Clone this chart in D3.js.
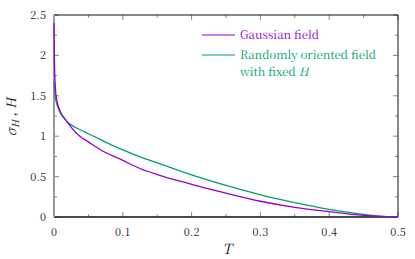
<!DOCTYPE html>
<html><head><meta charset="utf-8">
<script src="https://cdn.jsdelivr.net/npm/d3@7"></script>
<style>
html,body{margin:0;padding:0;background:#fff;}
</style></head>
<body><svg id="c" width="415" height="259"></svg>
<script>
const T        = [0, 0.0005, 0.001, 0.002, 0.004, 0.008, 0.012, 0.018, 0.025, 0.038, 0.05, 0.067, 0.1, 0.125, 0.15, 0.2, 0.25, 0.3, 0.35, 0.4, 0.45, 0.48, 0.5];
const gaussian = [2.4, 2.0, 1.8, 1.6, 1.45, 1.33, 1.26, 1.19, 1.11, 0.996, 0.93, 0.835, 0.70, 0.60, 0.525, 0.405, 0.295, 0.195, 0.12, 0.066, 0.02, 0.004, 0];
const randomH  = [1.68, 1.6, 1.55, 1.48, 1.40, 1.31, 1.25, 1.19, 1.14, 1.08, 1.03, 0.96, 0.83, 0.745, 0.67, 0.52, 0.39, 0.275, 0.178, 0.095, 0.033, 0.008, 0];
const xTicks = [0, 0.1, 0.2, 0.3, 0.4, 0.5];
const yTicks = [0, 0.5, 1, 1.5, 2, 2.5];
const seriesNames = ["Gaussian field", "Randomly oriented field"];

const FONT = "'Noto Serif CJK SC','Liberation Serif',serif";
const svg = d3.select("#c");
const L = 54, R = 398, TOP = 15, B = 217;
const x = d3.scaleLinear().domain([0, 0.5]).range([L, R]);
const y = d3.scaleLinear().domain([0, 2.5]).range([B, TOP]);

const tickCol = "#888";
const xMinor = d3.range(0, 0.5001, 0.05);
const yMinor = d3.range(0, 2.5001, 0.25);
const g = svg.append("g");
xMinor.forEach(v => {
  const major = xTicks.some(t => Math.abs(t - v) < 1e-6);
  const len = major ? 5 : 3;
  g.append("line").attr("x1", x(v)).attr("x2", x(v)).attr("y1", B).attr("y2", B - len).attr("stroke", tickCol);
  g.append("line").attr("x1", x(v)).attr("x2", x(v)).attr("y1", TOP).attr("y2", TOP + len).attr("stroke", tickCol);
});
yMinor.forEach(v => {
  const major = yTicks.some(t => Math.abs(t - v) < 1e-6);
  const len = major ? 5 : 3;
  g.append("line").attr("x1", L).attr("x2", L + len).attr("y1", y(v)).attr("y2", y(v)).attr("stroke", tickCol);
  g.append("line").attr("x1", R).attr("x2", R - len).attr("y1", y(v)).attr("y2", y(v)).attr("stroke", tickCol);
});

xTicks.forEach(v => {
  svg.append("text").attr("x", x(v)).attr("y", 236).attr("text-anchor", "middle").style("font-family", FONT)
    .attr("font-size", 11).attr("fill", "#222").text(v === 0 ? "0" : d3.format(".1f")(v));
});
yTicks.forEach(v => {
  svg.append("text").attr("x", 46).attr("y", y(v) + 4).attr("text-anchor", "end").style("font-family", FONT)
    .attr("font-size", 11).attr("fill", "#222").text(v);
});

// frame
svg.append("line").attr("x1", L).attr("x2", R).attr("y1", TOP).attr("y2", TOP).attr("stroke", "#111");
svg.append("line").attr("x1", L).attr("x2", R).attr("y1", B).attr("y2", B).attr("stroke", "#111").attr("stroke-width", 1.3);
svg.append("line").attr("x1", R).attr("x2", R).attr("y1", TOP).attr("y2", B).attr("stroke", "#111");
svg.append("line").attr("x1", L).attr("x2", L).attr("y1", TOP).attr("y2", B).attr("stroke", "#999").attr("stroke-width", 2);

// curves
const line = d3.line().x((d, i) => x(T[i])).y(d => y(d)).curve(d3.curveMonotoneX);
const cP = "#9400d3", cG = "#009e73";
svg.append("path").attr("d", line(randomH)).attr("fill", "none").attr("stroke", cG).attr("stroke-width", 1.3);
svg.append("path").attr("d", line(gaussian)).attr("fill", "none").attr("stroke", cP).attr("stroke-width", 1.3);

// legend
const lg = svg.append("g").style("font-family", FONT);
lg.append("line").attr("x1", 202).attr("x2", 235).attr("y1", 35).attr("y2", 35).attr("stroke", cP).attr("stroke-width", 1.2);
lg.append("text").attr("x", 240).attr("y", 39).attr("font-size", 11.5).attr("fill", cP).text(seriesNames[0]);
lg.append("line").attr("x1", 202).attr("x2", 235).attr("y1", 55).attr("y2", 55).attr("stroke", cG).attr("stroke-width", 1.2);
lg.append("text").attr("x", 240).attr("y", 59).attr("font-size", 11.5).attr("fill", cG).text(seriesNames[1]);
const t3 = lg.append("text").attr("x", 240).attr("y", 76).attr("font-size", 11.5).attr("fill", cG);
t3.append("tspan").text("with fixed ");
t3.append("tspan").attr("font-style", "italic").text("H");

svg.append("text").attr("x", 227).attr("y", 254).attr("text-anchor", "middle").style("font-family", FONT)
  .attr("font-size", 14).attr("font-style", "italic").attr("fill", "#222").text("T");
const yl = svg.append("text").attr("transform", "translate(16,117) rotate(-90)").attr("text-anchor", "middle")
  .style("font-family", FONT).attr("font-size", 13).attr("fill", "#222");
yl.append("tspan").attr("font-style", "italic").text("σ");
yl.append("tspan").attr("font-style", "italic").attr("font-size", 9.5).attr("dy", 3).text("H");
yl.append("tspan").attr("dy", -3).text(" , ");
yl.append("tspan").attr("font-style", "italic").text("H");
</script></body></html>
